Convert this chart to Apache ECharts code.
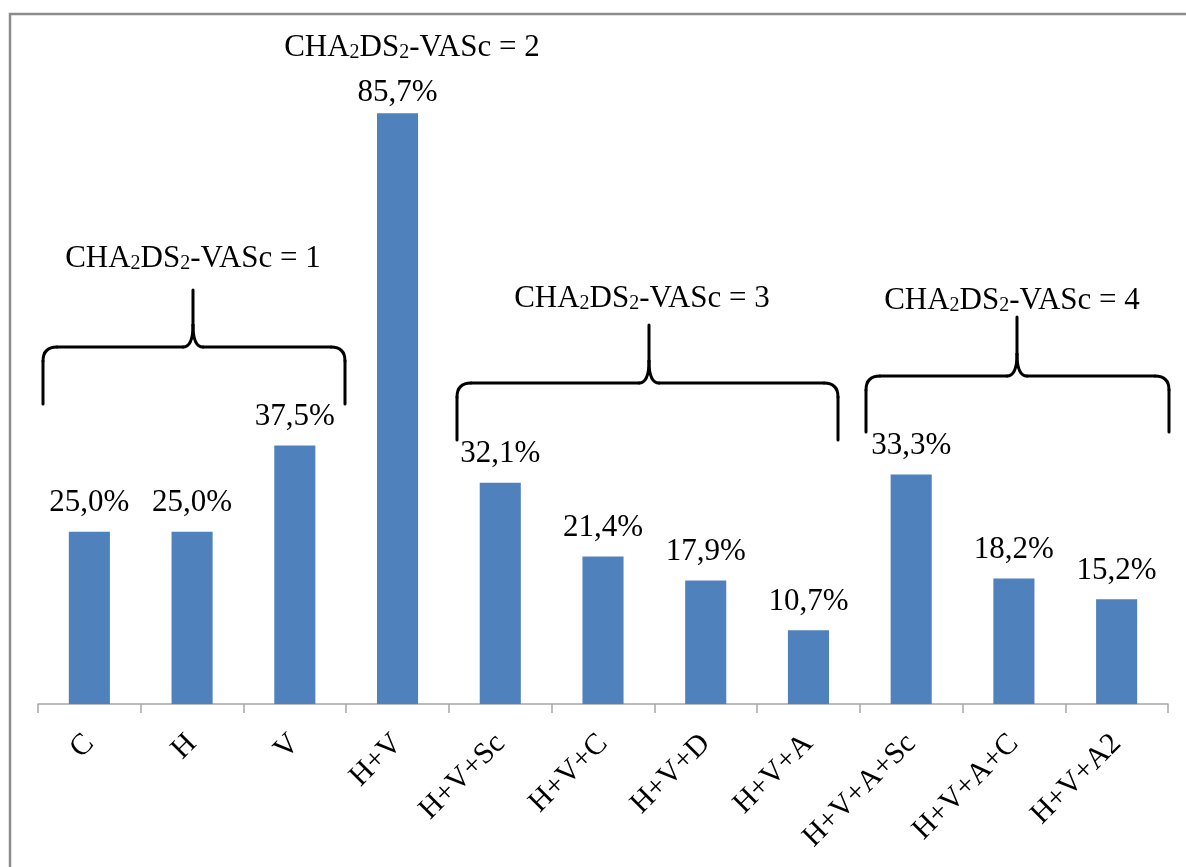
<!DOCTYPE html>
<html>
<head>
<meta charset="utf-8">
<script src="https://cdn.jsdelivr.net/npm/echarts@6/dist/echarts.min.js"></script>
<style>
  html, body { margin: 0; padding: 0; background: #fff; }
  #chart { width: 1186px; height: 867px; }
</style>
</head>
<body>
<div id="chart"></div>
<script>
// Risk factor combinations on the x axis
const categories = ['C', 'H', 'V', 'H+V', 'H+V+Sc', 'H+V+C', 'H+V+D', 'H+V+A', 'H+V+A+Sc', 'H+V+A+C', 'H+V+A2'];
// Percentage for each combination
const percentValues = [25.0, 25.0, 37.5, 85.7, 32.1, 21.4, 17.9, 10.7, 33.3, 18.2, 15.2];
// Score group captions
const scoreLabels = ['1', '2', '3', '4'];

const SERIF = '"Liberation Serif", "Times New Roman", serif';
const BAR_BLUE = '#4f81bd';
const Y_MAX = 90;

function fmtPct(v) {
  return v.toFixed(1).replace('.', ',') + '%';
}

// The tallest bar sits close to the plot top, so its label hugs the bar a bit more
const barData = percentValues.map(v => ({
  value: v,
  label: { distance: v > 80 ? 5 : 13 }
}));

// Caption "CHA2DS2-VASc = n" with subscripts
function scoreCaption(n, cx, cy) {
  return {
    type: 'text',
    x: cx, y: cy,
    z: 10,
    style: {
      text: '{m|CHA}{s|2}{m|DS}{s|2}{m|-VASc = ' + n + '}',
      align: 'center',
      verticalAlign: 'middle',
      rich: {
        m: { fontFamily: SERIF, fontSize: 31, lineHeight: 36, fill: '#000', verticalAlign: 'bottom' },
        s: { fontFamily: SERIF, fontSize: 20, lineHeight: 27, fill: '#000', verticalAlign: 'bottom' }
      }
    }
  };
}

// Curly brace opening downward: ends at (xl,yEnd) and (xr,yEnd), bar at yBar, tip at (xm,yTip)
function brace(xl, xr, xm, yEnd, yBar, yTip) {
  const r = 14, c = 10, k = 22;
  const st = { fill: null, stroke: '#000', lineWidth: 3, lineCap: 'round' };
  const line = (x1, y1, x2, y2) => ({ type: 'line', shape: { x1, y1, x2, y2 }, style: st });
  const curve = (x1, y1, cpx1, cpy1, x2, y2) => ({ type: 'bezierCurve', shape: { x1, y1, cpx1, cpy1, x2, y2 }, style: st });
  return {
    type: 'group',
    z: 10,
    children: [
      line(xl, yEnd, xl, yBar + r),
      curve(xl, yBar + r, xl, yBar, xl + r, yBar),
      line(xl + r, yBar, xm - c, yBar),
      curve(xm - c, yBar, xm, yBar, xm, yBar - k),
      line(xm, yBar - k, xm, yTip),
      curve(xm, yBar - k, xm, yBar, xm + c, yBar),
      line(xm + c, yBar, xr - r, yBar),
      curve(xr - r, yBar, xr, yBar, xr, yBar + r),
      line(xr, yBar + r, xr, yEnd)
    ]
  };
}

const chart = echarts.init(document.getElementById('chart'), null, { renderer: 'canvas' });

chart.setOption({
  backgroundColor: '#fff',
  animation: false,
  grid: { left: 38, right: 18, top: 83.5, bottom: 163, containLabel: false },
  xAxis: {
    type: 'category',
    data: categories,
    boundaryGap: true,
    axisLine: { show: true, lineStyle: { color: '#a6a6a6', width: 1.5 } },
    axisTick: { show: true, length: 9, lineStyle: { color: '#a6a6a6', width: 1.5 } },
    axisLabel: {
      rotate: 45,
      margin: 35,
      interval: 0,
      fontFamily: SERIF,
      fontSize: 30,
      color: '#000'
    }
  },
  yAxis: {
    type: 'value',
    min: 0,
    max: Y_MAX,
    show: false,
    splitLine: { show: false }
  },
  series: [{
    type: 'bar',
    data: barData,
    barWidth: '40%',
    itemStyle: { color: BAR_BLUE },
    label: {
      show: true,
      position: 'top',
      fontFamily: SERIF,
      fontSize: 31,
      color: '#000',
      formatter: p => fmtPct(p.value)
    }
  }],
  graphic: [
    // outer frame
    {
      type: 'rect',
      shape: { x: 10, y: 14, width: 1200, height: 900 },
      style: { fill: null, stroke: '#8c8c8c', lineWidth: 2.5 },
      z: 1
    },
    brace(43, 345, 193, 404, 347, 290),
    brace(457, 838, 649, 440, 383, 325),
    brace(866, 1169, 1017, 432, 376, 317),
    scoreCaption(scoreLabels[0], 193, 256),
    scoreCaption(scoreLabels[1], 412, 45),
    scoreCaption(scoreLabels[2], 642, 296),
    scoreCaption(scoreLabels[3], 1012, 298)
  ]
});
</script>
</body>
</html>
